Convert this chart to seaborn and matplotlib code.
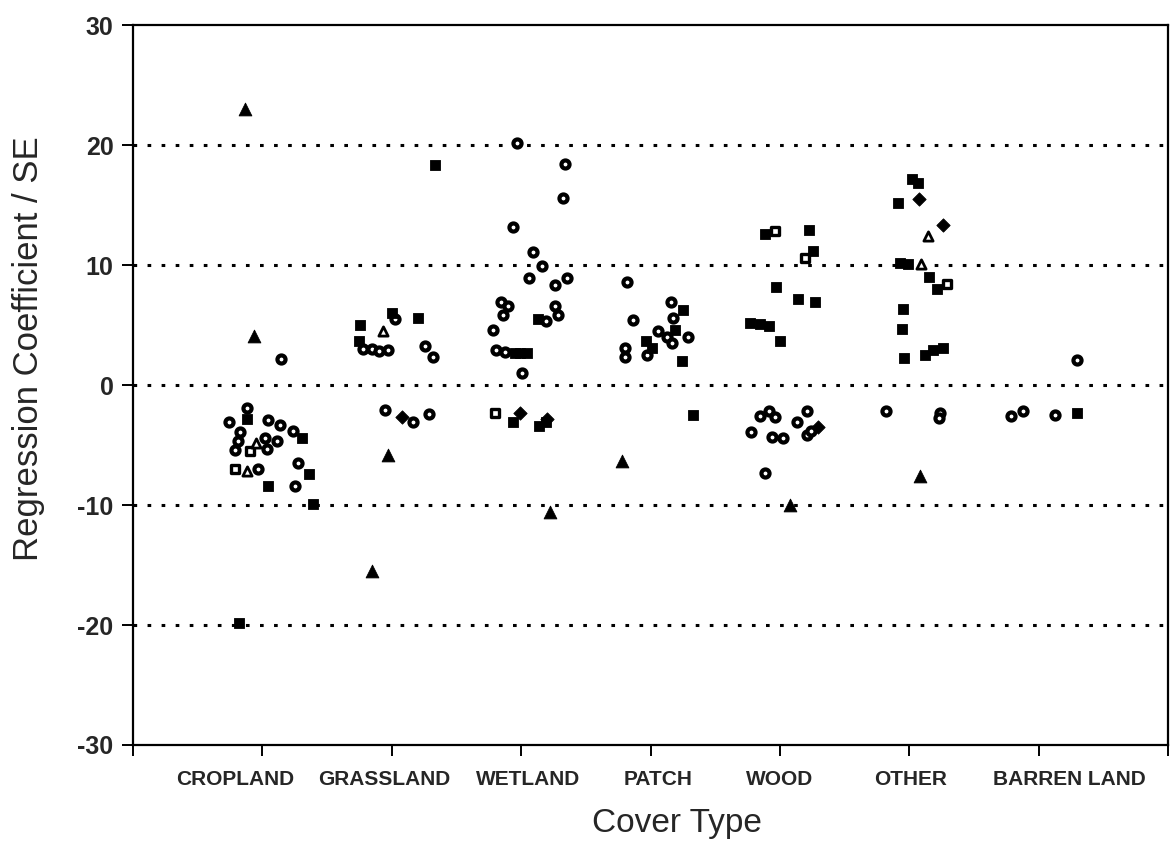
import matplotlib
matplotlib.use("Agg")
import matplotlib.pyplot as plt
import matplotlib.transforms as mtransforms
import seaborn as sns

# ---------------- data ----------------
categories = ["CROPLAND", "GRASSLAND", "WETLAND", "PATCH", "WOOD", "OTHER", "BARREN LAND"]
y_ticks = [-30, -20, -10, 0, 10, 20, 30]
grid_levels = [-20, -10, 0, 10, 20]

# position on the cover-type axis (category k sits at k = 1..7) and value
filled_tri_pos = [0.866, 0.935, 1.971, 1.845, 3.223, 3.779, 5.077, 6.082]
filled_tri_val = [23.0, 4.1, -5.8, -15.5, -10.6, -6.3, -10.0, -7.6]

open_tri_pos = [0.950, 0.881, 1.932, 6.146, 6.087]
open_tri_val = [-4.8, -7.2, 4.5, 12.4, 10.1]

filled_sq_pos = [0.881, 1.306, 1.043, 1.360, 1.391, 0.819,
                 2.334, 1.754, 1.999, 2.202, 1.747,
                 3.130, 2.952, 2.995, 3.043, 2.934, 3.192, 3.138,
                 4.250, 4.188, 3.964, 4.008, 4.240, 4.325,
                 4.884, 5.224, 5.255, 4.967, 5.139, 5.270, 4.768, 4.845, 4.915, 5.000,
                 6.018, 6.069, 5.914, 5.927, 5.991, 6.154, 6.216, 5.948, 5.940, 5.958,
                 6.121, 6.185, 6.257,
                 7.293]
filled_sq_val = [-2.8, -4.45, -8.4, -7.4, -9.9, -19.85,
                 18.3, 5.0, 6.0, 5.6, 3.7,
                 5.5, 2.7, 2.65, 2.7, -3.05, -3.1, -3.4,
                 6.25, 4.6, 3.67, 3.05, 2.0, -2.5,
                 12.55, 12.9, 11.2, 8.2, 7.15, 6.9, 5.15, 5.1, 4.95, 3.7,
                 17.2, 16.8, 15.2, 10.15, 10.1, 9.0, 8.0, 6.35, 4.7, 2.25,
                 2.5, 2.9, 3.1,
                 -2.3]

open_sq_pos = [0.904, 0.788, 2.798, 4.961, 5.193, 6.288]
open_sq_val = [-5.5, -7.0, -2.35, 12.8, 10.6, 8.4]

diamond_pos = [2.076, 2.991, 3.200, 5.296, 6.077, 6.257]
diamond_val = [-2.7, -2.35, -2.8, -3.5, 15.5, 13.35]

circle_pos = [1.144, 0.881, 0.742, 1.043, 1.136, 1.236, 0.827, 0.811, 1.020, 1.113,
              0.788, 1.036, 1.275, 0.966, 1.252,
              2.025, 1.777, 1.847, 1.901, 1.971, 2.257, 2.316, 1.947, 2.162, 2.287,
              2.965, 3.338, 3.323, 2.937, 3.091, 3.158, 3.060, 3.261, 3.354, 2.842,
              2.898, 2.859, 3.261, 3.284, 3.192, 2.780, 2.805, 2.875, 3.004,
              3.818, 3.864, 4.158, 4.173, 4.057, 4.124, 4.289, 4.163, 3.802, 3.802, 3.970,
              4.845, 4.915, 4.961, 5.206, 5.129, 4.774, 4.936, 5.026, 5.206, 5.240, 4.884,
              5.819, 6.236, 6.229,
              7.293, 6.783, 6.880, 7.125]
circle_val = [2.2, -1.95, -3.05, -2.9, -3.3, -3.8, -3.9, -4.7, -4.4, -4.7,
              -5.4, -5.3, -6.5, -7.0, -8.4,
              5.5, 3.0, 3.0, 2.85, 2.9, 3.25, 2.3, -2.1, -3.1, -2.4,
              20.2, 18.4, 15.6, 13.2, 11.05, 9.95, 8.9, 8.3, 8.9, 6.95,
              6.6, 5.85, 6.6, 5.85, 5.3, 4.55, 2.95, 2.75, 0.97,
              8.6, 5.4, 6.9, 5.55, 4.5, 4.0, 3.97, 3.47, 3.05, 2.36, 2.5,
              -2.55, -2.2, -2.7, -2.15, -3.05, -3.95, -4.3, -4.45, -4.2, -3.8, -7.3,
              -2.2, -2.35, -2.75,
              2.05, -2.6, -2.15, -2.5]

# ---------------- plot ----------------
sns.set_theme(style="white")
plt.rcParams['font.family'] = ['Liberation Sans', 'DejaVu Sans']

fig = plt.figure(figsize=(11.72, 8.49), dpi=100)
ax = fig.add_axes([0.1135, 0.1225, 0.8831, 0.848])

for lev in grid_levels:
    ax.axhline(lev, color="black", linestyle=(0, (1.2, 3.4)), linewidth=2.2, zorder=1)

sns.scatterplot(x=circle_pos, y=circle_val, marker="o", s=34, color="white",
                edgecolor="black", linewidth=3.0, ax=ax, zorder=3)
sns.scatterplot(x=filled_sq_pos, y=filled_sq_val, marker="s", s=62, color="black",
                edgecolor="black", linewidth=0.6, ax=ax, zorder=4)
sns.scatterplot(x=open_sq_pos, y=open_sq_val, marker="s", s=36, color="white",
                edgecolor="black", linewidth=2.4, ax=ax, zorder=4)
sns.scatterplot(x=filled_tri_pos, y=filled_tri_val, marker="^", s=85, color="black",
                edgecolor="black", linewidth=0.6, ax=ax, zorder=4)
sns.scatterplot(x=open_tri_pos, y=open_tri_val, marker="^", s=44, color="white",
                edgecolor="black", linewidth=2.0, ax=ax, zorder=4)
sns.scatterplot(x=diamond_pos, y=diamond_val, marker="D", s=46, color="black",
                edgecolor="black", linewidth=0.6, ax=ax, zorder=5)

ax.set_xlim(0, 8)
ax.set_ylim(-30, 30)
ax.set_xticks(range(0, 9))
ax.set_xticklabels([""] + categories + [""], fontsize=15, fontweight="bold")
ax.set_yticks(y_ticks)
ax.set_yticklabels([str(v) for v in y_ticks], fontsize=18, fontweight="bold")
ax.tick_params(axis="both", direction="out", length=8, width=1.4, color="black",
               bottom=True, left=True)
ax.tick_params(axis="x", pad=10)
ax.tick_params(axis="y", pad=6)

# small horizontal shifts of the category labels, as in the original layout
label_shift_px = [0, -27, -8, 7, 8, 0, 1, 31, 0]
for lab, dx in zip(ax.get_xticklabels(), label_shift_px):
    lab.set_transform(lab.get_transform() +
                      mtransforms.ScaledTranslation(dx / 100.0, 0, fig.dpi_scale_trans))

for side in ["left", "bottom", "top", "right"]:
    ax.spines[side].set_visible(True)
    ax.spines[side].set_color("black")
    ax.spines[side].set_linewidth(1.6)

ax.set_xlabel("Cover Type", fontsize=24)
ax.set_ylabel("Regression Coefficient / SE", fontsize=25)
ax.xaxis.set_label_coords(0.526, -0.088)
ax.yaxis.set_label_coords(-0.085, 0.55)

fig.savefig("out.png", dpi=100, facecolor="white")
